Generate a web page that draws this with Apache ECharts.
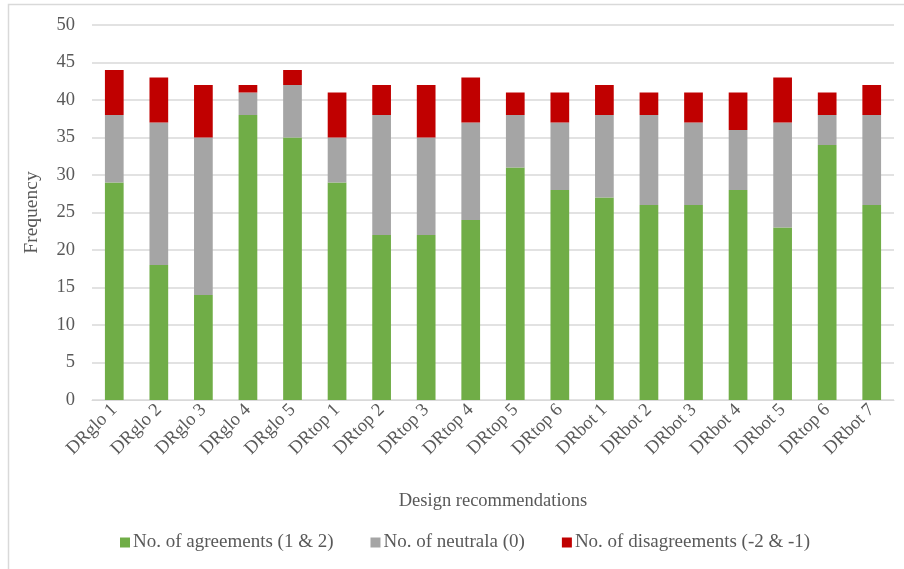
<!DOCTYPE html>
<html>
<head>
<meta charset="utf-8">
<script src="https://cdn.jsdelivr.net/npm/echarts@6/dist/echarts.min.js"></script>
<style>html,body{margin:0;padding:0;background:#fff;}#c{width:904px;height:569px;}</style>
</head>
<body>
<div id="c"></div>
<script>
const categories = ['DRglo 1','DRglo 2','DRglo 3','DRglo 4','DRglo 5','DRtop 1','DRtop 2','DRtop 3','DRtop 4','DRtop 5','DRtop 6','DRbot 1','DRbot 2','DRbot 3','DRbot 4','DRbot 5','DRtop 6','DRbot 7'];
const agreements = [29,18,14,38,35,29,22,22,24,31,28,27,26,26,28,23,34,26];
const neutrals   = [9,19,21,3,7,6,16,13,13,7,9,11,12,11,8,14,4,12];
const disagreements = [6,6,7,1,2,6,4,7,6,3,4,4,3,4,5,6,3,4];
const seriesNames = ['No. of agreements (1 & 2)','No. of neutrala (0)','No. of disagreements (-2 & -1)'];
const colors = ['#70ad47','#a5a5a5','#c00000'];

const font = 'Liberation Serif, Times New Roman, serif';
const chart = echarts.init(document.getElementById('c'));
const mk = (name, data, color) => ({
  name, type:'bar', stack:'t', data, barWidth:'42%',
  itemStyle:{color}, emphasis:{disabled:true}
});
chart.setOption({
  animation:false,
  textStyle:{fontFamily:font},
  graphic:[{type:'rect', shape:{x:8.5,y:4.5,width:1000,height:1000}, style:{fill:'none',stroke:'#d9d9d9',lineWidth:1.5}, silent:true}],
  grid:{left:92,right:10,top:25,bottom:169},
  xAxis:{
    type:'category', data:categories,
    name:'Design recommendations', nameLocation:'middle', nameGap:92,
    nameTextStyle:{fontFamily:font,fontSize:18.5,color:'#595959'},
    axisLine:{lineStyle:{color:'#d9d9d9',width:1}},
    axisTick:{show:false},
    axisLabel:{rotate:45,interval:0,fontFamily:font,fontSize:18.5,color:'#595959',margin:7}
  },
  yAxis:{
    type:'value', min:0, max:50, interval:5,
    name:'Frequency', nameLocation:'middle', nameGap:50, nameRotate:90,
    nameTextStyle:{fontFamily:font,fontSize:19.5,color:'#595959'},
    axisLine:{show:false}, axisTick:{show:false},
    axisLabel:{fontFamily:font,fontSize:18.5,color:'#595959',margin:17},
    splitLine:{lineStyle:{color:'#d9d9d9',width:1.5}}
  },
  legend:{
    bottom:12, left:115, itemWidth:10, itemHeight:10, itemGap:37,
    icon:'rect',
    textStyle:{fontFamily:font,fontSize:19,color:'#595959',padding:[0,0,0,-2]},
    data:seriesNames
  },
  series:[
    mk(seriesNames[0], agreements, colors[0]),
    mk(seriesNames[1], neutrals, colors[1]),
    mk(seriesNames[2], disagreements, colors[2])
  ]
});
</script>
</body>
</html>
